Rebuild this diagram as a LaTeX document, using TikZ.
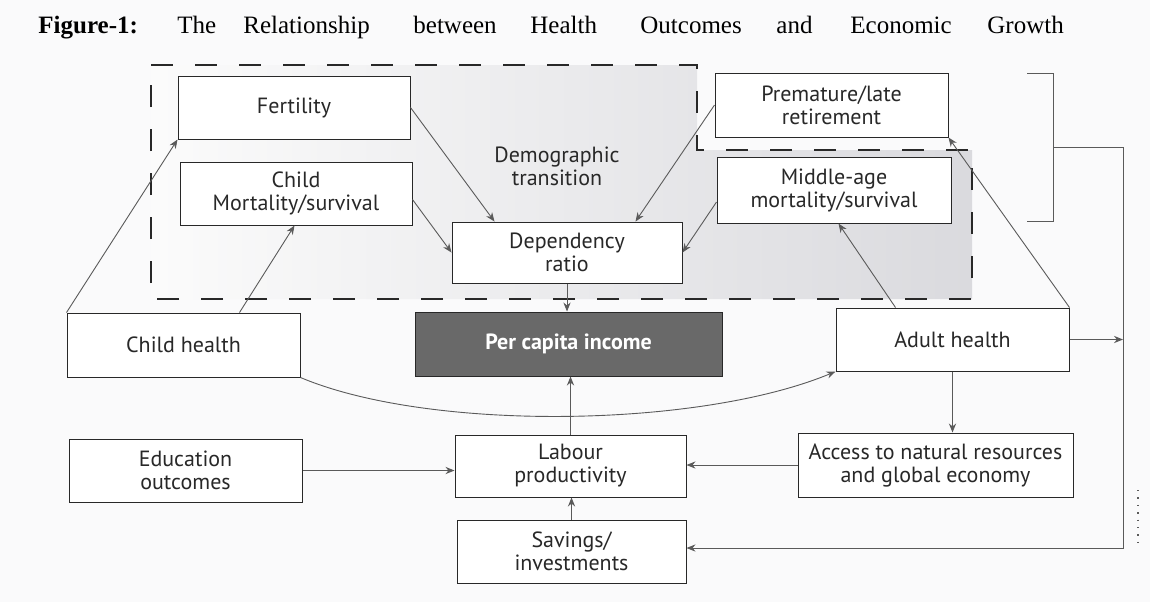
\documentclass[tikz,border=0pt]{standalone}
\usepackage{fontspec}
\setmainfont{Liberation Serif}
\newfontfamily\boxfont{PT Sans}
\usetikzlibrary{arrows.meta,calc}
\definecolor{paper}{RGB}{250,250,251}
\definecolor{ink}{RGB}{40,40,40}
\definecolor{wire}{RGB}{90,90,90}
\definecolor{band}{RGB}{218,218,222}
\definecolor{incomefill}{RGB}{105,105,105}
% box from corner (x1,y1) to corner (x2,y2), in pixel units
\newcommand\boxat[7][]{%
  \pgfmathsetmacro\bxw{(#5-#3)*0.5}%
  \pgfmathsetmacro\bxh{(#6-#4)*0.5}%
  \node[box,minimum width=\bxw pt,minimum height=\bxh pt,#1] (#2) at ({(#3+#5)/2},{(#4+#6)/2}) {#7};}
\begin{document}
\begin{tikzpicture}[x=0.5pt,y=-0.5pt,
  box/.style={draw=ink, line width=0.5pt, fill=white, inner sep=0pt, align=center,
    text=ink, font=\boxfont\fontsize{11}{11.5}\selectfont},
  incomebox/.style={fill=incomefill, text=white, font=\boxfont\bfseries\fontsize{11}{11.5}\selectfont},
  conn/.style={draw=wire, line width=0.45pt, -{Stealth[length=4.5pt,width=3.6pt]}},
  plain/.style={draw=wire, line width=0.45pt},
  region/.style={draw=ink, line width=0.9pt, dash pattern=on 11pt off 11pt},
  label/.style={align=center, text=ink, font=\boxfont\fontsize{11}{11.5}\selectfont},
  titleword/.style={anchor=base west, inner sep=0pt, text=black, font=\fontsize{12.5}{14}\selectfont}]

% page
\fill[paper] (0,0) rectangle (1150,602);
\useasboundingbox (0,0) rectangle (1150,602);

% title
\node[titleword] (t1) at (38,33) {\textbf{Figure-1:}};
\node[titleword] (t2) at (177,33) {The};
\node[titleword] (t3) at (243,33) {Relationship};
\node[titleword] (t4) at (413,33) {between};
\node[titleword] (t5) at (530,33) {Health};
\node[titleword] (t6) at (640,33) {Outcomes};
\node[titleword] (t7) at (776,33) {and};
\node[titleword] (t8) at (850,33) {Economic};
\node[titleword] (t9) at (987,33) {Growth};

% demographic transition area
\path[left color=gray!3, right color=band]
  (151,65) -- (697,65) -- (697,150) -- (972,150) -- (972,299) -- (151,299) -- cycle;
\draw[region]
  (151,65) -- (697,65) -- (697,150) -- (972,150) -- (972,299) -- (151,299) -- cycle;
\node[label] (demo) at (557,166) {Demographic\\transition};

% boxes
\boxat{fert}{178}{76}{410}{139}{Fertility}
\boxat{cmort}{180}{162}{412}{225}{Child\\Mortality/survival}
\boxat{dep}{452}{222}{682}{283}{Dependency\\ratio}
\boxat{prem}{715}{73}{948}{137}{Premature/late\\retirement}
\boxat{mid}{717}{157}{951}{223}{Middle-age\\mortality/survival}
\boxat{child}{67}{313}{300}{377}{Child health}
\boxat[incomebox]{pci}{415}{312}{722}{376}{Per capita income}
\boxat{adult}{836}{308}{1069}{371}{Adult health}
\boxat{edu}{69}{439}{302}{502}{Education\\outcomes}
\boxat{lab}{455}{435}{686}{497}{Labour\\productivity}
\boxat{acc}{798}{433}{1073}{497}{Access to natural resources\\and global economy}
\boxat{sav}{457}{520}{686}{583}{Savings/\\investments}

% bracket and feedback line on the right
\coordinate (b1) at (1027,73);
\coordinate (b2) at (1053,73);
\coordinate (b3) at (1053,221);
\coordinate (b4) at (1027,221);
\coordinate (bmid) at (1053,147);
\coordinate (vtop) at (1123,147);
\coordinate (vbot) at (1123,548);
\draw[plain] (b1) -- (b2) -- (b3) -- (b4);
\draw[conn] (bmid) -- (vtop) -- (vbot) -- (vbot -| sav.east);
\coordinate (d1) at (1138,490);
\coordinate (d2) at (1138,543);
\draw[wire, line width=0.7pt, dash pattern=on 0.7pt off 3pt] (d1) -- (d2);

% connectors
\draw[conn] (child.north west) -- (fert.south west);
\draw[conn] ($(child.north west)+(173,0)$) -- ($(cmort.south west)+(115,0)$);
\draw[conn] (fert.east) -- ($(dep.north west)+(43,0)$);
\draw[conn] ($(cmort.east)+(0,6)$) -- (dep.west);
\draw[conn] (prem.west) -- ($(dep.north west)+(184,0)$);
\draw[conn] ($(mid.west)+(0,12)$) -- (dep.east);
\draw[conn] ($(adult.north west)+(60,0)$) -- ($(mid.south west)+(122,0)$);
\draw[conn] (adult.north east) -- (prem.south east);
\draw[conn] (dep.south) -- (dep.south |- pci.north);
\draw[conn] (lab.north) -- (lab.north |- pci.south);
\draw[conn] (sav.north) -- (sav.north |- lab.south);
\draw[conn] (edu.east) -- (edu.east -| lab.west);
\draw[conn] (acc.west) -- (acc.west -| lab.east);
\draw[conn] (adult.south) -- (adult.south |- acc.north);
\draw[conn] (adult.east) -- (adult.east -| vtop);
\draw[conn] (child.south east) .. controls (430,432) and (700,428) .. (adult.south west);

\end{tikzpicture}
\end{document}
